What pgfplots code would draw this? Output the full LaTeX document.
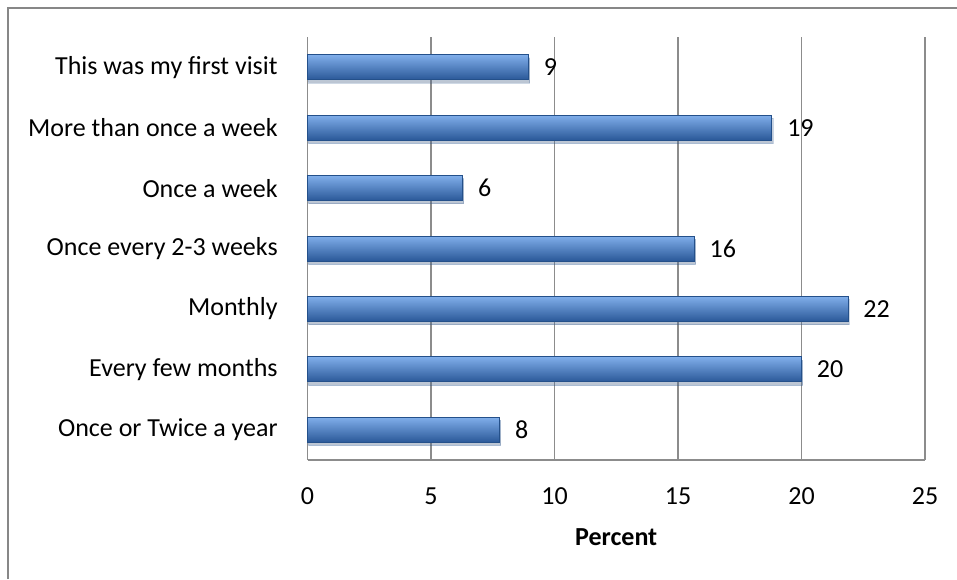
\documentclass[border=0pt]{standalone}
\usepackage{pgfplots}
\pgfplotsset{compat=1.18}
\usepackage{fontspec}
\setmainfont{Carlito}
\usetikzlibrary{shadows}
\definecolor{gridgray}{HTML}{8C8C8C}
\definecolor{framegray}{HTML}{878787}
\definecolor{bartop}{HTML}{80AEEA}
\definecolor{barmid}{HTML}{4A80CC}
\definecolor{barbot}{HTML}{2A5898}
\definecolor{baredge}{HTML}{24508A}

\begin{document}
\begin{tikzpicture}[font=\fontsize{13pt}{15.6pt}\selectfont]
\useasboundingbox (0,0) rectangle (478.5pt,289.5pt);
\draw[framegray, line width=1pt] (4pt,0) -- (4pt,285.5pt) -- (478.5pt,285.5pt);
\begin{axis}[
  at={(153.75pt,59.5pt)}, anchor=south west,
  scale only axis, width=308.75pt, height=211.5pt,
  xbar, bar width=12.5pt, bar shift=0pt,
  xmin=0, xmax=25, ymin=-0.5, ymax=6.5,
  xtick={0,5,...,25},
  ytick={0,...,6},
  yticklabels={Once or Twice a year, Every few months, Monthly, Once every 2-3 weeks, Once a week, More than once a week, This was my first visit},
  axis x line*=bottom, axis y line*=left,
  axis line style={gridgray, line width=0.75pt, -},
  xmajorgrids, major grid style={gridgray, line width=0.75pt},
  major tick length=0pt,
  tick style={draw=none},
  /pgf/number format/assume math mode=true,
  ticklabel style={font=\fontsize{13pt}{15.6pt}\selectfont, text=black},
  xticklabel style={anchor=north, inner sep=0pt, yshift=-13.5pt},
  yticklabel style={anchor=east, inner sep=0pt, xshift=-14.75pt},
  xlabel={\textbf{Percent}},
  xlabel style={at={(axis description cs:0.5,0)}, anchor=north, inner sep=0pt, yshift=-34pt, font=\fontsize{13pt}{15.6pt}\selectfont},
  nodes near coords,
  point meta=explicit symbolic,
  every node near coord/.append style={anchor=west, inner sep=0pt, xshift=7.5pt, text=black, font=\fontsize{13pt}{15.6pt}\selectfont},
  clip=false,
  mybar/.style={draw=baredge, line width=0.4pt, top color=bartop, middle color=barmid, bottom color=barbot,
    drop shadow={shadow xshift=0.6pt, shadow yshift=-1.6pt, opacity=0.22}},
]
\addplot[mybar] coordinates {(7.78,0) [8]};
\addplot[mybar] coordinates {(20.0,1) [20]};
\addplot[mybar] coordinates {(21.88,2) [22]};
\addplot[mybar] coordinates {(15.66,3) [16]};
\addplot[mybar] coordinates {(6.28,4) [6]};
\addplot[mybar] coordinates {(18.8,5) [19]};
\addplot[mybar] coordinates {(8.95,6) [9]};
\end{axis}
\end{tikzpicture}
\end{document}
